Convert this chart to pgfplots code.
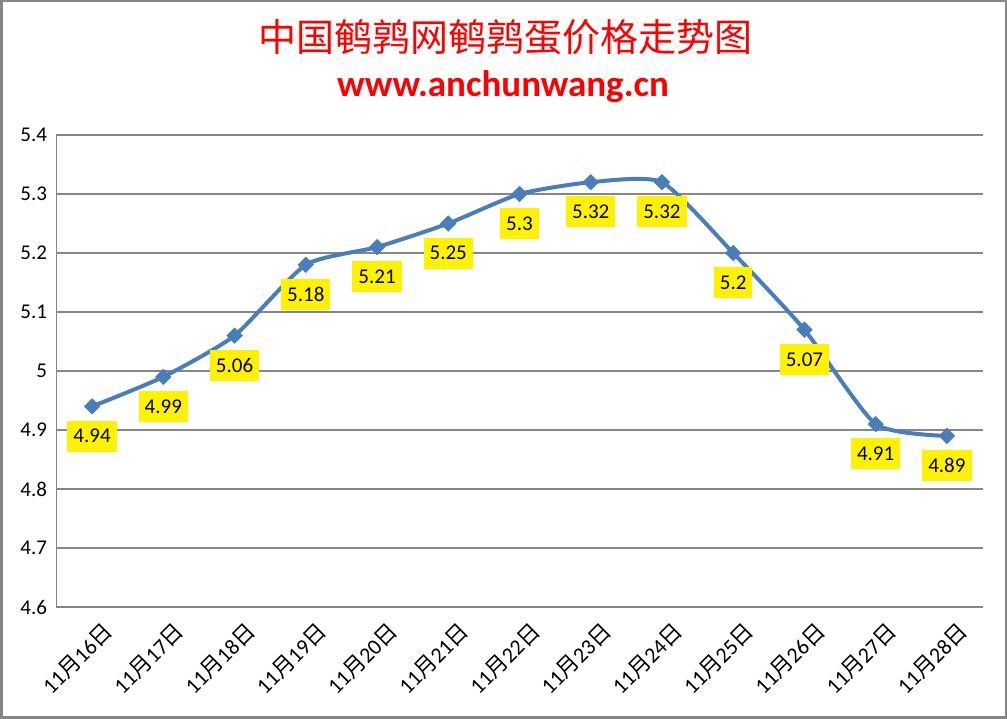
\documentclass[border=0pt]{standalone}
\usepackage{pgfplots}
\pgfplotsset{compat=1.18}
\usepackage{fontspec}
\setmainfont{Carlito}
\newfontfamily\cjk{Noto Sans CJK SC}
\definecolor{linecol}{HTML}{4A7EBB}
\definecolor{gridcol}{HTML}{868686}
\begin{document}
\begin{tikzpicture}
\useasboundingbox (0pt,0pt) rectangle (1007pt,719pt);
\draw[gridcol, line width=2.5pt] (1.25pt,1.25pt) rectangle (1005.75pt,717.75pt);
\node[text=red, font=\cjk\fontsize{38}{42}\selectfont] at (505pt,682pt) {中国鹌鹑网鹌鹑蛋价格走势图};
\node[text=red, font=\bfseries\fontsize{37}{42}\selectfont] at (503pt,632pt) {www.anchunwang.cn};
\begin{axis}[
  at={(56.5pt,112pt)}, anchor=south west,
  scale only axis, width=926pt, height=472pt,
  xmin=-0.5, xmax=12.5, ymin=4.6, ymax=5.4,
  ytick={4.6,4.7,4.8,4.9,5.0,5.1,5.2,5.3,5.4},
  xtick={0,...,12},
  xticklabels={11{\cjk 月}16{\cjk 日},11{\cjk 月}17{\cjk 日},11{\cjk 月}18{\cjk 日},11{\cjk 月}19{\cjk 日},11{\cjk 月}20{\cjk 日},11{\cjk 月}21{\cjk 日},11{\cjk 月}22{\cjk 日},11{\cjk 月}23{\cjk 日},11{\cjk 月}24{\cjk 日},11{\cjk 月}25{\cjk 日},11{\cjk 月}26{\cjk 日},11{\cjk 月}27{\cjk 日},11{\cjk 月}28{\cjk 日}},
  axis x line*=bottom, axis y line*=left,
  axis line style={-, gridcol, line width=1.5pt},
  ymajorgrids, major grid style={gridcol, line width=1.5pt},
  major tick length=0pt,
  /pgf/number format/assume math mode=true,
  /pgf/number format/fixed, /pgf/number format/precision=2,
  yticklabel style={font=\fontsize{21}{24}\selectfont, xshift=-6pt},
  xticklabel style={font=\fontsize{22}{24}\selectfont, rotate=45, anchor=north east, xshift=1pt, yshift=-13pt},
  nodes near coords,
  every node near coord/.append style={font=\fontsize{21}{24}\selectfont, fill=yellow, text=black, anchor=north, yshift=-14pt, minimum height=31pt, inner xsep=6pt, inner ysep=0pt},
  clip=false,
]
\addplot[color=linecol, line width=4pt, smooth, tension=0.35, mark=square*, mark size=5.5pt, mark options={fill=linecol, draw=linecol, line width=0.5pt, rotate=45}]
coordinates {
(0,4.94) (1,4.99) (2,5.06) (3,5.18) (4,5.21) (5,5.25) (6,5.3) (7,5.32) (8,5.32) (9,5.2) (10,5.07) (11,4.91) (12,4.89)
};
\end{axis}
\end{tikzpicture}
\end{document}
